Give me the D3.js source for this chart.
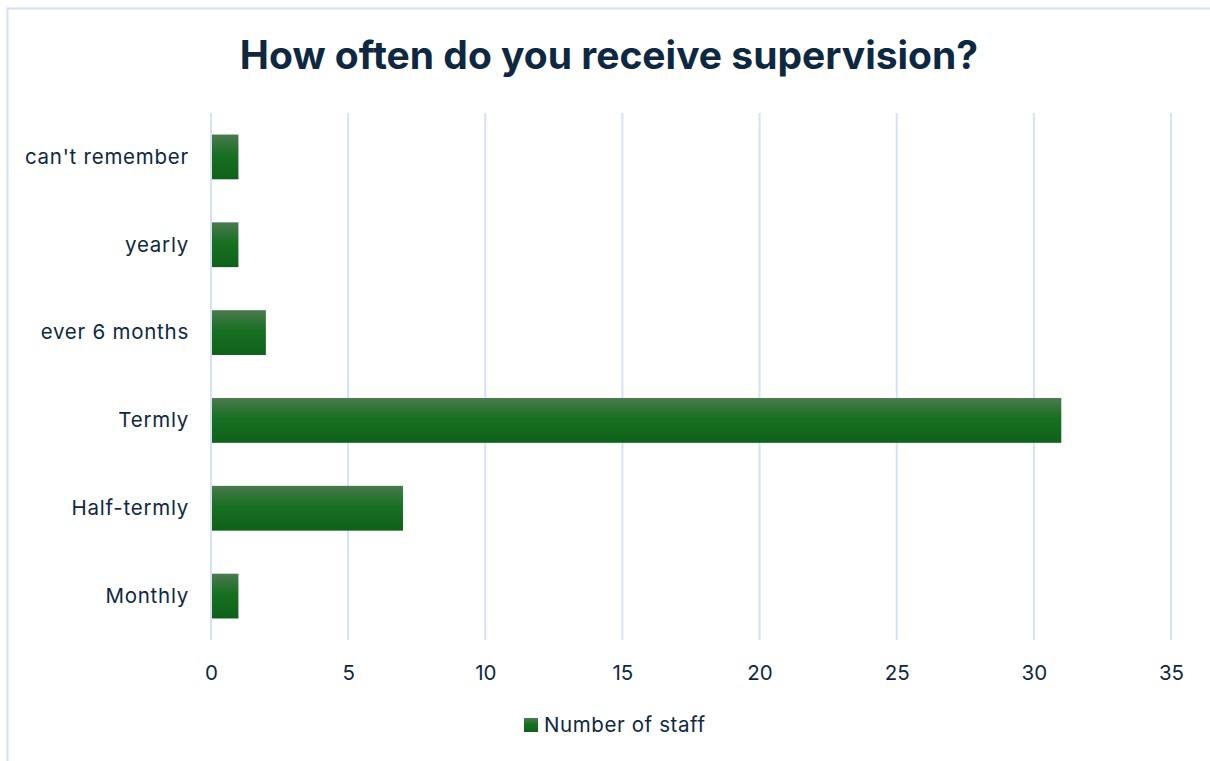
<!DOCTYPE html>
<html>
<head>
<meta charset="utf-8">
<script src="https://cdn.jsdelivr.net/npm/d3@7"></script>
<style>
  html, body { margin: 0; padding: 0; background: #fff; }
  svg { display: block; }
</style>
</head>
<body>
<svg id="chart" width="1210" height="761"></svg>
<script>
// Survey responses: how often staff receive supervision
const categories = ["Monthly", "Half-termly", "Termly", "ever 6 months", "yearly", "can't remember"];
const staffCounts = [1, 7, 31, 2, 1, 1];
const xTicks = [0, 5, 10, 15, 20, 25, 30, 35];
const seriesName = "Number of staff";
const chartTitle = "How often do you receive supervision?";

const svg = d3.select("#chart");
const W = 1210, H = 761;
const margin = { left: 211, right: 39, top: 113, bottom: 121 };
const textColor = "#0e2841";
const gridColor = "#d3e2f4";
const font = "Inter, 'Open Sans', sans-serif";
const labelSize = "20.5px";
const labelSpacing = "0.75px";

// Outer frame
svg.append("rect")
  .attr("x", 7.5).attr("y", 8.5)
  .attr("width", W).attr("height", H)
  .attr("fill", "#fff")
  .attr("stroke", "#cfe0f3").attr("stroke-width", 2);

// Bar gradient
const defs = svg.append("defs");
const grad = defs.append("linearGradient")
  .attr("id", "barGrad").attr("x1", 0).attr("y1", 0).attr("x2", 0).attr("y2", 1);
grad.append("stop").attr("offset", "0%").attr("stop-color", "#4b7a4f");
grad.append("stop").attr("offset", "45%").attr("stop-color", "#177022");
grad.append("stop").attr("offset", "100%").attr("stop-color", "#0f611a");

const x = d3.scaleLinear()
  .domain([0, 35])
  .range([margin.left, W - margin.right]);

// Top-to-bottom order: last category at the top
const y = d3.scaleBand()
  .domain(categories.slice().reverse())
  .range([margin.top, H - margin.bottom])
  .paddingInner(0.49)
  .paddingOuter(0.245);

// Vertical gridlines
svg.append("g")
  .selectAll("line")
  .data(xTicks)
  .join("line")
  .attr("x1", d => x(d)).attr("x2", d => x(d))
  .attr("y1", margin.top).attr("y2", H - margin.bottom)
  .attr("stroke", gridColor).attr("stroke-width", 2);

// Bars
svg.append("g")
  .selectAll("rect")
  .data(categories.map((c, i) => ({ c, v: staffCounts[i] })))
  .join("rect")
  .attr("x", x(0) + 1)
  .attr("y", d => y(d.c))
  .attr("width", d => x(d.v) - x(0) - 1)
  .attr("height", y.bandwidth())
  .attr("fill", "url(#barGrad)");

// X axis tick labels
const xAxis = d3.axisBottom(x).tickValues(xTicks).tickSize(0).tickPadding(25);
const gx = svg.append("g")
  .attr("transform", `translate(0,${H - margin.bottom})`)
  .call(xAxis);
gx.select(".domain").remove();
gx.selectAll("text")
  .attr("fill", textColor)
  .style("font-family", font)
  .style("font-size", labelSize);

// Y axis category labels
const yAxis = d3.axisLeft(y).tickSize(0).tickPadding(22);
const gy = svg.append("g")
  .attr("transform", `translate(${margin.left},0)`)
  .call(yAxis);
gy.select(".domain").remove();
gy.selectAll("text")
  .attr("fill", textColor)
  .attr("dy", "0.33em")
  .style("font-family", font)
  .style("font-size", labelSize)
  .style("letter-spacing", labelSpacing);

// Title
svg.append("text")
  .attr("x", 609).attr("y", 69)
  .attr("text-anchor", "middle")
  .attr("fill", textColor)
  .style("font-family", font)
  .style("font-weight", "700")
  .style("font-size", "39px")
  .text(chartTitle);

// Legend
const legend = svg.append("g").attr("transform", "translate(524,718)");
legend.append("rect")
  .attr("width", 14).attr("height", 14)
  .attr("fill", "url(#barGrad)");
legend.append("text")
  .attr("x", 20).attr("y", 14)
  .attr("fill", textColor)
  .style("font-family", font)
  .style("font-size", labelSize)
  .style("letter-spacing", "0.6px")
  .text(seriesName);
</script>
</body>
</html>
